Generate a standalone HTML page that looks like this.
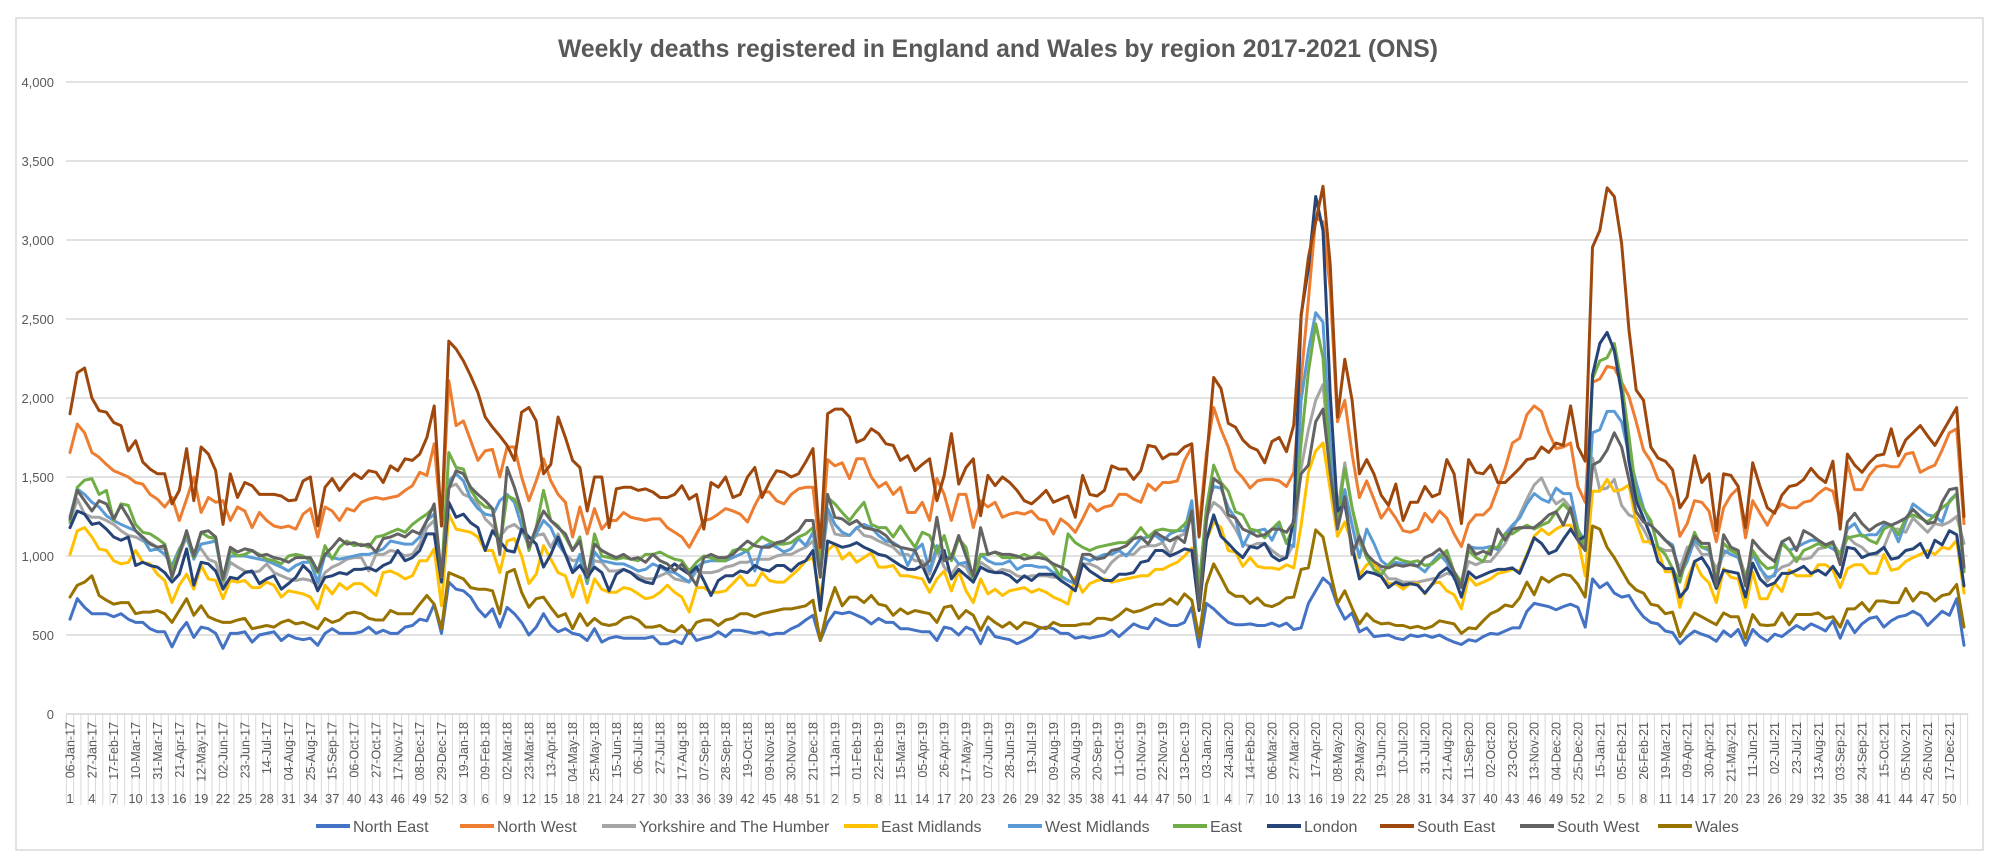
<!DOCTYPE html>
<html><head><meta charset="utf-8"><style>
html,body{margin:0;padding:0;background:#fff;}
svg{display:block;font-family:"Liberation Sans",sans-serif;}
</style></head><body>
<svg id="chart" width="2000" height="867" viewBox="0 0 2000 867" xmlns="http://www.w3.org/2000/svg">
<rect x="0" y="0" width="2000" height="867" fill="#fff"/>
<rect x="16" y="18" width="1967" height="832" fill="#fff" stroke="#d9d9d9" stroke-width="1.5"/>
<text x="998" y="57" text-anchor="middle" font-size="25" font-weight="bold" fill="#595959" textLength="880" lengthAdjust="spacingAndGlyphs">Weekly deaths registered in England and Wales by region 2017-2021 (ONS)</text>
<g id="grid"></g>
<g id="yaxis"></g>
<g id="xaxis"></g>
<g id="series"></g>
<g id="legend"></g>
</svg>
<script>
const yTicks=[0,500,1000,1500,2000,2500,3000,3500,4000];
const yTickLabels=["0","500","1,000","1,500","2,000","2,500","3,000","3,500","4,000"];
const seriesNames=["North East","North West","Yorkshire and The Humber","East Midlands","West Midlands","East","London","South East","South West","Wales"];
const yearWeeks=[52,52,52,53,52];
const startDate="2017-01-06";

const northEast=[600,730,675,635,635,635,615,635,600,580,580,540,520,520,425,520,580,485,550,540,510,415,510,510,520,455,500,510,520,465,500,480,470,480,435,510,540,510,510,510,520,550,510,530,510,510,550,560,600,590,695,510,
835,790,780,740,665,615,665,550,675,635,580,500,550,635,560,520,540,510,500,465,540,455,480,490,480,480,480,480,490,445,445,465,445,530,465,480,490,520,490,530,530,520,510,520,500,510,510,540,560,595,625,465,
580,645,635,645,625,605,570,605,580,580,540,540,530,520,520,465,550,540,500,550,530,445,550,490,480,470,445,465,490,540,550,540,510,510,480,490,480,490,500,530,490,530,570,550,540,605,580,560,560,580,675,425,
700,665,620,580,565,565,570,560,560,575,555,575,535,545,700,780,860,820,690,600,640,520,545,490,495,500,480,470,500,490,500,485,500,475,455,440,470,460,490,510,505,525,545,545,650,700,690,680,660,680,
695,675,550,855,800,830,765,740,750,675,615,580,570,525,515,445,490,525,505,490,460,525,490,535,435,535,490,460,505,490,525,560,535,570,550,525,590,480,590,515,570,605,615,550,590,615,625,650,625,560,605,650,625,730,435];
const northWest=[1655,1835,1780,1655,1625,1580,1540,1520,1500,1465,1455,1390,1360,1310,1370,1225,1360,1500,1275,1370,1340,1350,1225,1310,1285,1180,1275,1225,1190,1180,1190,1170,1265,1300,1120,1310,1285,1225,1300,1285,1340,1360,1370,1360,1370,1380,1415,1445,1530,1510,1710,1190,
2110,1825,1855,1730,1605,1665,1675,1500,1690,1690,1500,1350,1475,1615,1475,1390,1340,1120,1310,1140,1300,1170,1225,1225,1275,1245,1235,1225,1235,1235,1180,1150,1120,1055,1140,1225,1235,1265,1300,1285,1265,1215,1320,1405,1405,1350,1330,1390,1425,1435,1435,1010,
1610,1570,1590,1490,1615,1615,1500,1435,1465,1390,1435,1275,1275,1340,1225,1490,1390,1225,1390,1390,1180,1350,1310,1340,1245,1265,1275,1265,1285,1235,1225,1140,1235,1200,1150,1235,1330,1285,1310,1320,1390,1390,1360,1340,1455,1415,1465,1465,1475,1605,1690,1180,
1650,1940,1800,1690,1545,1495,1430,1475,1485,1485,1475,1440,1530,2120,2620,3140,3115,2690,1850,1985,1645,1370,1475,1360,1240,1305,1240,1160,1150,1170,1270,1215,1285,1240,1140,1060,1205,1260,1260,1305,1430,1555,1715,1745,1895,1950,1915,1780,1680,1690,
1715,1440,1340,2100,2120,2200,2190,2100,2010,1850,1670,1600,1485,1450,1360,1125,1205,1350,1340,1285,1090,1305,1385,1430,1115,1350,1270,1195,1285,1330,1305,1305,1340,1350,1395,1430,1410,1225,1590,1420,1420,1510,1565,1575,1565,1565,1645,1655,1530,1555,1575,1670,1780,1805,1205];
const yorkshire=[1210,1360,1265,1245,1245,1225,1200,1160,1130,1120,1095,1085,1055,1045,875,1010,1120,1025,1045,980,960,815,960,930,905,895,905,950,895,875,855,845,855,845,815,895,930,950,980,990,990,905,1010,1010,1035,1025,1000,1010,1075,1180,1225,880,
1435,1455,1390,1370,1330,1235,1190,1120,1180,1200,1160,1075,1130,1140,1055,1140,1010,970,980,845,970,960,905,905,915,895,875,855,855,875,895,855,845,835,905,895,895,905,930,940,960,960,980,980,980,1000,1010,1010,1035,1055,1095,880,
1265,1140,1130,1130,1180,1130,1120,1095,1075,1055,1010,1010,970,970,885,1035,930,885,950,930,835,960,930,895,915,905,875,865,875,875,875,865,865,845,825,950,950,930,895,960,1000,1010,1010,1055,1065,1065,1085,1010,1120,1140,1330,800,
1250,1340,1305,1240,1170,1080,1060,1080,1080,1035,1000,990,1080,1555,1800,1985,2085,1600,1285,1590,1305,1080,1015,945,915,855,855,835,835,835,845,855,865,890,880,820,965,945,965,965,1020,1080,1170,1260,1360,1450,1495,1395,1330,1360,
1305,1160,1100,1620,1420,1430,1485,1320,1260,1240,1170,1080,1055,1035,1035,920,1055,1080,1010,1010,920,1010,1055,1020,875,1010,930,840,890,930,945,990,980,990,1045,1055,1080,965,1125,1080,1055,1010,1010,1055,1170,1170,1150,1240,1195,1150,1205,1195,1215,1250,1080];
const eastMidlands=[1010,1160,1180,1120,1045,1035,970,950,960,1035,960,950,885,845,705,815,885,790,940,855,845,730,845,835,845,800,800,835,815,740,780,770,760,740,665,815,760,825,790,825,825,790,750,895,905,885,855,875,970,970,1045,685,
1265,1170,1160,1150,1120,1035,1035,895,1095,1110,1000,825,885,1065,980,895,875,740,875,705,855,790,770,770,800,790,760,730,740,770,815,770,740,645,800,800,770,770,780,825,875,815,815,895,845,835,835,875,915,970,990,740,
1035,1075,980,1020,960,990,1020,930,930,940,875,875,865,855,770,855,905,780,905,780,705,855,760,790,750,780,790,800,770,790,770,740,720,695,865,770,825,845,855,835,845,855,865,875,875,915,915,940,960,1000,1050,655,
1100,1215,1180,1035,1025,935,990,935,925,925,915,945,925,1195,1530,1665,1715,1420,1125,1215,1080,880,945,965,870,825,825,790,825,825,760,825,835,780,755,665,870,815,835,855,890,900,915,905,1010,1125,1170,1135,1170,1195,
1195,1110,875,1410,1410,1485,1410,1420,1450,1215,1090,1090,1035,900,900,675,855,965,875,830,705,920,865,855,675,900,730,730,830,775,910,875,875,875,945,945,910,800,920,945,945,890,890,1010,910,920,965,990,1010,1035,1010,1055,1045,1100,765];
const westMidlands=[1250,1425,1390,1340,1310,1255,1225,1200,1180,1160,1110,1035,1045,1010,940,1045,1120,980,1075,1085,1095,845,1000,1000,1000,990,980,970,950,930,905,940,960,960,835,1010,990,980,990,1000,1010,1010,1025,1045,1095,1085,1075,1075,1120,1225,1265,880,
1475,1520,1475,1360,1300,1265,1255,1350,1390,1340,1190,1055,1140,1225,1180,1075,1010,895,1010,825,1025,970,960,950,950,930,905,915,950,930,905,895,865,835,930,960,970,970,970,990,1010,1035,905,1055,1075,1055,1025,1045,1110,1065,1150,880,
1300,1200,1150,1130,1180,1200,1180,1130,1095,1085,1055,940,1035,1075,905,1065,970,1010,950,960,865,1010,970,950,950,970,915,940,940,930,930,895,875,845,825,990,970,990,1010,1010,1035,1000,1055,1110,1120,1130,1095,1140,1160,1160,1350,800,
1305,1440,1430,1305,1240,1060,1150,1160,1170,1100,1195,1080,1060,1985,2300,2540,2480,1715,1215,1420,1195,990,1170,1080,970,935,960,950,960,935,900,960,1010,960,855,810,1060,1050,1050,1060,1040,1140,1195,1240,1330,1395,1360,1340,1430,1395,
1395,1170,1080,1780,1800,1915,1915,1850,1645,1465,1305,1195,1150,1100,1070,875,965,1100,1055,1035,855,1035,1010,990,855,1020,920,865,875,1090,1035,1055,1080,1100,1100,1070,1045,1010,1170,1205,1125,1135,1135,1195,1195,1090,1215,1330,1295,1260,1250,1215,1350,1395,920];
const east=[1220,1435,1480,1490,1390,1415,1225,1330,1320,1200,1150,1140,1110,1075,915,1035,1140,990,1150,1120,1110,845,1035,1000,1010,1035,1010,980,970,950,1000,1010,1000,970,895,1065,980,1055,1095,1065,1075,1055,1120,1130,1150,1170,1150,1200,1235,1265,1310,865,
1655,1560,1550,1415,1350,1310,1300,1055,1380,1360,1265,1035,1180,1415,1225,1190,1120,1035,1120,845,1140,1000,990,980,990,980,970,1010,1010,1025,1000,980,970,905,960,1000,990,970,970,1035,1045,1035,1075,1120,1095,1075,1075,1085,1120,1140,1180,940,
1370,1330,1275,1225,1285,1340,1200,1180,1180,1120,1190,1120,1055,1150,1130,1020,1130,970,1110,1055,845,1010,1010,1025,990,990,990,1010,990,1020,990,940,865,1140,1085,1055,1035,1055,1065,1075,1085,1085,1120,1180,1120,1160,1170,1160,1160,1200,1265,800,
1300,1575,1465,1410,1280,1260,1170,1160,1115,1170,1215,1080,1190,1715,2165,2470,2255,1530,1240,1555,1305,1115,990,915,880,945,990,970,960,970,940,950,990,1035,900,835,1035,990,965,1055,1055,1140,1140,1170,1195,1170,1195,1215,1280,1330,
1280,1170,1035,2120,2235,2255,2345,2100,1760,1395,1295,1225,1055,1010,920,835,1010,1150,1055,1055,855,1080,1035,1010,855,1035,965,920,930,1080,1035,965,1035,1055,1080,1055,1080,1010,1115,1125,1135,1100,1080,1170,1195,1135,1240,1260,1240,1215,1260,1305,1340,1395,900];
const london=[1180,1285,1265,1200,1210,1170,1120,1100,1120,940,960,940,930,895,835,885,1045,815,960,950,905,790,865,855,895,905,825,855,875,790,825,865,940,895,780,865,875,895,885,915,915,925,905,940,960,1035,970,990,1035,1140,1140,835,
1340,1245,1265,1210,1180,1035,1160,1095,1035,1025,1170,1120,1075,930,1010,1120,1010,895,940,865,930,895,780,885,915,895,855,835,825,940,915,950,915,885,930,845,750,845,875,875,905,895,940,915,905,940,940,905,950,970,1035,655,
1095,1075,1055,1065,1085,1055,1035,1010,1000,970,940,915,915,940,835,930,1035,855,915,875,835,930,905,895,895,875,835,875,845,885,885,885,845,815,780,950,905,875,845,845,885,885,895,960,970,1035,1035,1000,1020,1045,1035,655,
1100,1260,1125,1080,1030,990,1060,1050,1080,1000,970,990,1240,2525,2820,3275,3060,2030,1285,1330,1060,855,900,890,870,800,835,815,825,815,765,820,890,925,870,740,900,860,880,900,915,915,925,890,1000,1115,1080,1015,1035,1105,
1170,1100,1125,2145,2345,2415,2300,2030,1600,1350,1240,1125,965,920,920,740,795,965,990,920,795,910,900,890,740,955,855,810,830,890,890,910,935,890,910,880,935,865,1055,1045,990,1010,1020,1055,980,990,1035,1045,1080,990,1100,1070,1160,1135,810];
const southEast=[1900,2160,2190,2000,1920,1910,1845,1825,1665,1730,1595,1550,1520,1520,1330,1415,1680,1350,1690,1645,1540,1200,1520,1370,1465,1445,1390,1390,1390,1380,1350,1355,1475,1500,1190,1435,1490,1415,1475,1520,1490,1540,1530,1465,1570,1540,1615,1605,1645,1750,1950,1190,
2360,2310,2235,2140,2035,1880,1815,1760,1700,1605,1910,1940,1855,1520,1580,1880,1750,1605,1560,1285,1500,1500,1180,1425,1435,1435,1415,1425,1405,1370,1370,1390,1445,1360,1390,1170,1465,1435,1500,1370,1390,1500,1560,1370,1465,1540,1530,1500,1520,1595,1680,1055,
1900,1930,1930,1880,1720,1740,1805,1775,1710,1700,1605,1635,1540,1580,1615,1350,1510,1775,1455,1560,1615,1255,1510,1445,1500,1465,1415,1350,1330,1370,1415,1340,1360,1380,1245,1510,1390,1380,1415,1570,1550,1550,1485,1540,1700,1690,1615,1645,1645,1690,1710,1120,
1600,2130,2060,1840,1815,1735,1690,1670,1590,1725,1750,1660,1830,2515,2890,3115,3340,2845,1880,2245,1985,1520,1610,1520,1385,1320,1455,1225,1340,1340,1440,1375,1395,1610,1520,1205,1610,1530,1520,1575,1465,1465,1510,1555,1610,1620,1690,1655,1715,1700,
1950,1690,1600,2955,3060,3330,3275,2980,2435,2050,1985,1690,1620,1600,1545,1305,1375,1635,1465,1520,1160,1520,1510,1440,1180,1590,1440,1305,1270,1385,1440,1450,1485,1555,1500,1465,1600,1170,1645,1575,1530,1590,1635,1645,1805,1635,1735,1780,1825,1760,1700,1780,1860,1940,1250];
const southWest=[1235,1415,1350,1285,1350,1330,1235,1320,1245,1160,1120,1075,1055,1065,865,1010,1160,1000,1150,1160,1120,855,1055,1025,1045,1035,1000,1010,990,980,960,990,990,990,905,1010,1055,1110,1075,1085,1065,1075,1025,1110,1120,1140,1120,1160,1140,1225,1330,865,
1425,1540,1520,1435,1390,1350,1300,1010,1560,1435,1285,1055,1180,1285,1225,1180,1140,1035,1095,875,1075,1035,1010,990,1010,980,990,960,1010,970,950,905,950,885,815,990,1010,990,990,1010,1055,1095,1065,1055,1055,1085,1095,1130,1160,1225,1225,865,
1390,1245,1235,1200,1225,1180,1170,1160,1130,1075,1055,1045,1035,930,970,1245,970,990,1130,1000,875,1180,1010,1025,1010,1010,1000,980,990,990,980,950,930,905,825,1010,1010,980,990,1035,1045,1065,1110,1120,1075,1150,1120,1095,1120,1085,1285,675,
1220,1490,1455,1260,1240,1170,1150,1125,1135,1170,1170,1150,1215,1520,1575,1850,1930,1530,1170,1375,1010,1125,1010,965,935,925,945,935,945,935,990,1010,1045,990,900,800,1070,1010,1030,1010,1170,1100,1170,1180,1180,1180,1215,1260,1280,1195,
1305,1100,1035,1575,1600,1670,1780,1690,1485,1280,1215,1195,1150,1100,1055,875,1010,1125,1080,1080,810,1135,1055,1035,810,1100,1045,1000,965,1090,1115,1035,1160,1135,1100,1070,1090,945,1215,1270,1205,1160,1195,1215,1195,1215,1240,1295,1250,1205,1215,1340,1420,1430,930];
const wales=[740,815,835,875,750,720,695,705,705,635,645,645,655,635,580,655,730,625,685,615,595,580,580,595,605,540,550,560,550,580,595,570,580,560,540,605,580,595,635,645,635,605,595,595,655,635,635,635,695,750,695,540,
895,875,855,800,790,790,780,635,895,915,770,675,730,740,675,615,635,540,635,560,605,570,560,570,605,615,595,550,550,560,530,520,560,510,580,595,595,560,595,605,635,635,615,635,645,655,665,665,675,685,720,465,
665,800,685,740,740,705,750,695,685,625,665,635,655,645,635,580,675,685,605,655,625,530,615,580,550,580,540,580,570,550,540,580,560,560,560,570,570,605,605,595,625,665,645,655,675,695,695,730,695,760,720,485,
820,950,865,775,745,745,700,735,690,680,700,735,740,915,925,1165,1120,900,700,780,670,570,635,590,570,575,560,560,545,555,540,555,590,580,570,510,545,540,590,635,655,690,680,735,835,755,865,835,865,885,
875,820,740,1190,1170,1055,990,910,830,785,765,695,685,635,645,490,565,640,615,590,565,640,615,615,480,630,565,560,565,640,565,630,630,630,640,605,615,550,665,665,705,650,715,715,705,705,795,715,770,760,715,750,760,820,550];

const seriesData=[northEast,northWest,yorkshire,eastMidlands,westMidlands,east,london,southEast,southWest,wales];
const seriesColors=["#4472C4","#ED7D31","#A5A5A5","#FFC000","#5B9BD5","#70AD47","#264478","#9E480E","#636363","#997300"];
const seriesKeys=["north-east","north-west","yorkshire-humber","east-midlands","west-midlands","east","london","south-east","south-west","wales"];

const NS="http://www.w3.org/2000/svg";
const X0=70, X1=1964, Y0=714, Y1=82, VMAX=4000;
const N=northEast.length;
function xPos(i){return X0+(X1-X0)*i/(N-1);}
function yPos(v){return Y0-(Y0-Y1)*v/VMAX;}
function mk(tag,attrs,parent){const e=document.createElementNS(NS,tag);for(const k in attrs)e.setAttribute(k,attrs[k]);parent.appendChild(e);return e;}

const grid=document.getElementById('grid');
const yaxis=document.getElementById('yaxis');
yTicks.forEach((t,k)=>{
  const l=mk('line',{x1:66,x2:1968,y1:yPos(t),y2:yPos(t),stroke:'#d9d9d9','stroke-width':1.5},grid);
  
  
  const tx=mk('text',{x:54,y:yPos(t)+5,'text-anchor':'end','font-size':13,fill:'#595959'},yaxis);
  tx.textContent=yTickLabels[k];
  
  
});

const xaxis=document.getElementById('xaxis');
const step=(X1-X0)/(N-1);
for(let k=0;k<=N;k++){
  const bx=X0+(k-0.5)*step;
  const sep=mk('line',{x1:bx,x2:bx,y1:714,y2:805,stroke:'#d9d9d9','stroke-width':1},xaxis);
  
  
}
const months=["Jan","Feb","Mar","Apr","May","Jun","Jul","Aug","Sep","Oct","Nov","Dec"];
const weekNums=[];
yearWeeks.forEach(w=>{for(let k=1;k<=w;k++)weekNums.push(k);});
const d0=new Date(startDate+"T12:00:00Z");
for(let i=0;i<N;i+=3){
  const d=new Date(d0.getTime()+i*7*86400000);
  const lab=String(d.getUTCDate()).padStart(2,'0')+'-'+months[d.getUTCMonth()]+'-'+String(d.getUTCFullYear()).slice(2);
  const x=xPos(i);
  const t=mk('text',{transform:'translate('+(x+4.5)+',722) rotate(-90)','text-anchor':'end','font-size':12.5,fill:'#595959'},xaxis);
  t.textContent=lab;
  
  
  const wn=mk('text',{x:x,y:803,'text-anchor':'middle','font-size':13,fill:'#595959'},xaxis);
  wn.textContent=weekNums[i];
  
  
}
const ax=mk('line',{x1:66,x2:1968,y1:714,y2:714,stroke:'#d9d9d9','stroke-width':1.5},xaxis);



const sg=document.getElementById('series');
seriesData.forEach((arr,s)=>{
  const pts=arr.map((v,i)=>xPos(i).toFixed(1)+','+yPos(v).toFixed(1)).join(' ');
  const pl=mk('polyline',{points:pts,fill:'none',stroke:seriesColors[s],'stroke-width':3,'stroke-linejoin':'round','stroke-linecap':'round'},sg);
  
  
});

const legX=[316,460,602,844,1008,1173,1267,1380,1520,1658];
const lg=document.getElementById('legend');
seriesNames.forEach((n,s)=>{
  const g=mk('g',{},lg);
  
  
  mk('line',{x1:legX[s],x2:legX[s]+34,y1:826,y2:826,stroke:seriesColors[s],'stroke-width':4},g);
  const t=mk('text',{x:legX[s]+37,y:832,'font-size':16,fill:'#595959'},g);
  t.textContent=n;
});
</script>
</body></html>
